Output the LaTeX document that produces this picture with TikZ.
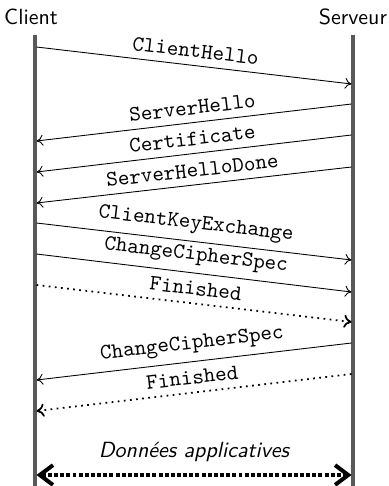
\documentclass[tikz,border=0pt]{standalone}
\usepackage{tikz}
\usetikzlibrary{calc,arrows.meta}

\tikzset{
  lifeline/.style={line width=1.4pt, black!65},
  msg/.style={-{To[length=3pt,width=5pt]}, thin},
  msgdot/.style={-{To[length=3.5pt,width=6pt]}, thick, dotted},
  msglabel/.style={midway, above, sloped, font=\ttfamily},
  datatip/.style={{Straight Barb[length=6pt,width=9pt]}-{Straight Barb[length=6pt,width=9pt]}},
}

\begin{document}
\begin{tikzpicture}[x=0.016cm, y=-0.016cm, font=\sffamily]

			\useasboundingbox (0,0) rectangle (388,486);

			% ------------------------------------------------------------
			% Positionen
			% ------------------------------------------------------------

			\def\xc{35}
			\def\xs{353}
			\def\xcin{36.5}
			\def\xsin{351.5}

			% ------------------------------------------------------------
			% Participants
			% ------------------------------------------------------------

			\node (client) at (31,17) {Client};
			\node (serveur) at (353,17) {Serveur};

			% ------------------------------------------------------------
			% Lifelines
			% ------------------------------------------------------------

			\coordinate (ctop) at (\xc,35);
			\coordinate (cbot) at (\xc,486);
			\coordinate (stop) at (\xs,35);
			\coordinate (sbot) at (\xs,486);

			\draw[lifeline] (ctop) -- (cbot);
			\draw[lifeline] (stop) -- (sbot);

			% ------------------------------------------------------------
			% Handshake
			% ------------------------------------------------------------

			\coordinate (c1) at (\xcin,47);  \coordinate (s1) at (\xsin,84);
			\coordinate (s2) at (\xsin,104); \coordinate (c2) at (\xcin,141);
			\coordinate (s3) at (\xsin,135); \coordinate (c3) at (\xcin,172);
			\coordinate (s4) at (\xsin,167); \coordinate (c4) at (\xcin,203);
			\coordinate (c5) at (\xcin,223); \coordinate (s5) at (\xsin,260);
			\coordinate (c6) at (\xcin,254); \coordinate (s6) at (\xsin,292);
			\coordinate (c7) at (\xcin,285); \coordinate (s7) at (\xsin,322);
			\coordinate (s8) at (\xsin,343); \coordinate (c8) at (\xcin,380);
			\coordinate (s9) at (\xsin,374); \coordinate (c9) at (\xcin,411);

			\draw[msg] (c1) -- (s1) node[msglabel] {ClientHello};
			\draw[msg] (s2) -- (c2) node[msglabel] {ServerHello};
			\draw[msg] (s3) -- (c3) node[msglabel] {Certificate};
			\draw[msg] (s4) -- (c4) node[msglabel] {ServerHelloDone};
			\draw[msg] (c5) -- (s5) node[msglabel] {ClientKeyExchange};
			\draw[msg] (c6) -- (s6) node[msglabel] {ChangeCipherSpec};
			\draw[msgdot] (c7) -- (s7) node[msglabel] {Finished};
			\draw[msg] (s8) -- (c8) node[msglabel] {ChangeCipherSpec};
			\draw[msgdot] (s9) -- (c9) node[msglabel] {Finished};

			% ------------------------------------------------------------
			% Application data
			% ------------------------------------------------------------

			\coordinate (cdata) at (\xcin,475);
			\coordinate (sdata) at (\xsin,475);

			\draw[datatip, line width=1.8pt, densely dotted] (cdata) -- (sdata)
			node[midway, above=2pt, font=\sffamily\itshape] (data) {Données applicatives};
\end{tikzpicture}
\end{document}
